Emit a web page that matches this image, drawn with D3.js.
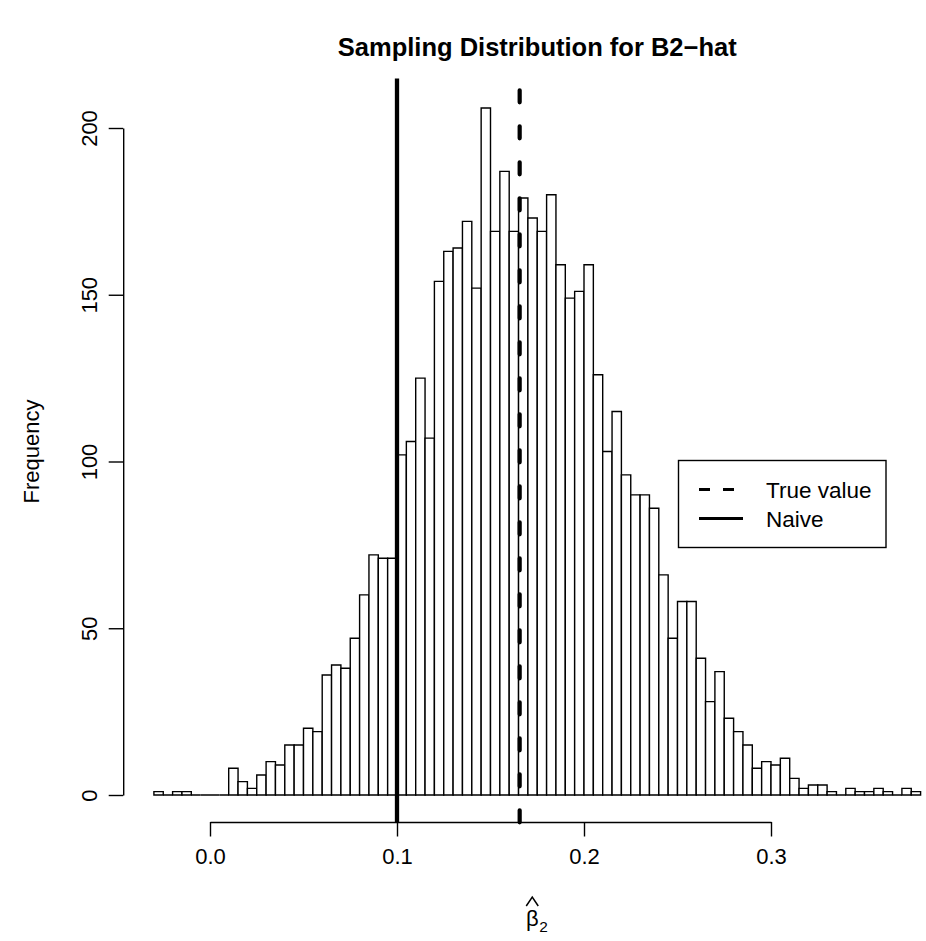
<!DOCTYPE html>
<html><head><meta charset="utf-8">
<script src="https://cdn.jsdelivr.net/npm/d3@7"></script>
<style>
body{margin:0;background:#fff}
text{font-family:"Liberation Sans",Arial,Helvetica,sans-serif;fill:#000}
</style>
</head><body>
<svg id="c" width="926" height="941"></svg>
<script>
// ---- data ----
const binStart = -0.03;
const binWidth = 0.005;
const counts = [
  1,0,1,1,0,0,0,0,          // -0.030 .. 0.005
  8,4,2,6,10,9,15,15,20,19, // 0.010 .. 0.055
  36,39,38,47,60,72,71,71,  // 0.060 .. 0.095
  102,106,125,107,154,163,164,172,152,206, // 0.100 .. 0.145
  169,187,169,179,173,169,180,159,149,151, // 0.150 .. 0.195
  159,126,103,115,96,90,90,86,66,47,       // 0.200 .. 0.245
  58,58,41,28,37,23,19,15,8,10,            // 0.250 .. 0.295
  9,11,5,2,3,3,1,0,2,1,                    // 0.300 .. 0.345
  1,2,1,0,2,1                              // 0.350 .. 0.375
];
const xTicks = [0, 0.1, 0.2, 0.3];
const xTickLabels = ["0.0", "0.1", "0.2", "0.3"];
const yTicks = [0, 50, 100, 150, 200];
const trueValue = 0.1656;
const naiveValue = 0.1;
const legendLabels = ["True value", "Naive"];
const titleText = "Sampling Distribution for B2\u2212hat";
const yLabel = "Frequency";

// ---- layout ----
const svg = d3.select("#c");
const plot = {left: 123.2, right: 951.3, top: 80.5, bottom: 822.5};
const x = d3.scaleLinear().domain([0, 0.3]).range([210, 771]);
const y = d3.scaleLinear().domain([0, 200]).range([795, 128]);
const fs = 22;

// bars
const bins = counts.map((c, i) => ({x0: binStart + i * binWidth, x1: binStart + (i + 1) * binWidth, c}));
svg.append("g").selectAll("path").data(bins).join("path")
  .attr("d", d => `M${x(d.x0)},${y(0)}H${x(d.x1)}V${y(d.c)}H${x(d.x0)}Z`)
  .attr("fill", "#fff").attr("stroke", "#000").attr("stroke-width", 1.4);

// vertical reference lines
svg.append("line")
  .attr("x1", x(naiveValue)).attr("x2", x(naiveValue))
  .attr("y1", plot.top - 2).attr("y2", plot.bottom)
  .attr("stroke", "#000").attr("stroke-width", 4.3);
svg.append("line")
  .attr("x1", x(trueValue)).attr("x2", x(trueValue))
  .attr("y1", plot.top).attr("y2", plot.bottom)
  .attr("stroke", "#000").attr("stroke-width", 4.2)
  .attr("stroke-dasharray", "12 24").attr("stroke-dashoffset", 26.2)
  .attr("stroke-linecap", "round");

// x axis
const xa = svg.append("g").attr("transform", `translate(0,${plot.bottom - 0.5})`)
  .call(d3.axisBottom(x).tickValues(xTicks).tickSize(14.5).tickSizeOuter(0)
    .tickFormat((d, i) => xTickLabels[i]));
xa.select(".domain").attr("stroke-width", 1.4);
xa.selectAll(".tick line").attr("stroke-width", 1.4);
xa.selectAll(".tick text").attr("font-size", fs).attr("font-family", null)
  .attr("y", 0).attr("dy", 0).attr("transform", "translate(0,42)");

// y axis
const ya = svg.append("g").attr("transform", `translate(${plot.left},0)`)
  .call(d3.axisLeft(y).tickValues(yTicks).tickSize(14.5).tickSizeOuter(0));
ya.select(".domain").attr("stroke-width", 1.4);
ya.selectAll(".tick line").attr("stroke-width", 1.4);
ya.selectAll(".tick text").attr("font-size", fs).attr("font-family", null)
  .attr("x", 0).attr("y", -26).attr("dy", 0)
  .attr("text-anchor", "middle").attr("transform", "rotate(-90)");

// title
const cx = (plot.left + plot.right) / 2;
svg.append("text").attr("x", cx).attr("y", 56).attr("text-anchor", "middle")
  .attr("font-size", 25.5).attr("font-weight", "bold").text(titleText);

// y label
svg.append("text").attr("transform", `translate(39,${(plot.top + plot.bottom) / 2}) rotate(-90)`)
  .attr("text-anchor", "middle").attr("font-size", fs).text(yLabel);

// x label: beta hat sub 2
const xl = svg.append("g").attr("transform", `translate(${cx},0)`);
xl.append("text").attr("x", -5).attr("y", 926).attr("text-anchor", "middle")
  .attr("font-size", fs).text("\u03B2");
xl.append("text").attr("x", 2).attr("y", 932).attr("text-anchor", "start")
  .attr("font-size", 15.4).text("2");
xl.append("path").attr("d", "M-11,906 L-5,897 L1,906")
  .attr("fill", "none").attr("stroke", "#000").attr("stroke-width", 1.5);

// legend
const lg = svg.append("g");
lg.append("rect").attr("x", 678.5).attr("y", 460.5).attr("width", 207.5).attr("height", 87)
  .attr("fill", "#fff").attr("stroke", "#000").attr("stroke-width", 1.4);
const legRows = [{label: legendLabels[0], dash: "11 13", y: 489.5}, {label: legendLabels[1], dash: null, y: 518.5}];
legRows.forEach(r => {
  const ln = lg.append("line").attr("x1", 699).attr("x2", 743).attr("y1", r.y).attr("y2", r.y)
    .attr("stroke", "#000").attr("stroke-width", 3);
  if (r.dash) ln.attr("stroke-dasharray", r.dash);
  lg.append("text").attr("x", 766).attr("y", r.y + 8).attr("font-size", fs + 0.5).text(r.label);
});
</script>
</body></html>
